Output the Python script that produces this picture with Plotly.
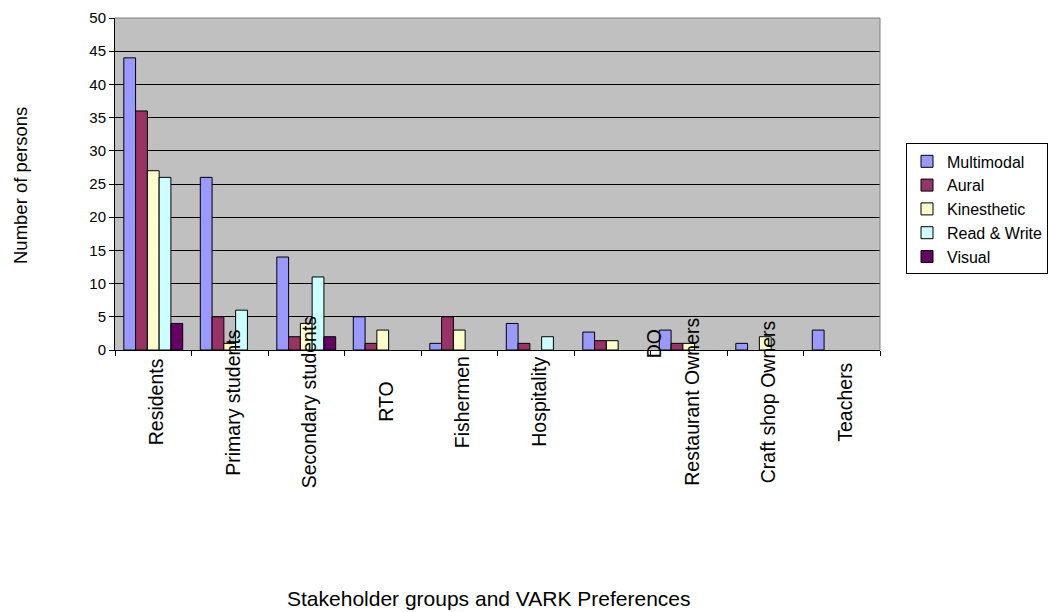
import plotly.graph_objects as go

# Stakeholder groups (x categories)
categories = ["Residents", "Primary students", "Secondary students", "RTO", "Fishermen",
              "Hospitality", "DO", "Restaurant Owners", "Craft shop Owners", "Teachers"]

# Number of persons per VARK preference (None = no respondents)
multimodal = [44, 26, 14, 5, 1, 4, 2.7, 3, 1, 3]
aural = [36, 5, 2, 1, 5, 1, 1.4, 1, None, None]
kinesthetic = [27, 1, 4, 3, 3, None, 1.4, 1, 2, None]
read_write = [26, 6, 11, None, None, 2, None, None, None, None]
visual = [4, None, 2, None, None, None, None, None, None, None]

series = [
    ("Multimodal", multimodal, "#9999FF"),
    ("Aural", aural, "#993366"),
    ("Kinesthetic", kinesthetic, "#FFFFCC"),
    ("Read & Write", read_write, "#CCFFFF"),
    ("Visual", visual, "#660066"),
]

y_ticks = list(range(0, 55, 5))

FONT = "Arial, Liberation Sans, sans-serif"

fig = go.Figure()
for name, vals, color in series:
    fig.add_trace(go.Bar(
        name=name, x=categories, y=vals,
        marker=dict(color=color, line=dict(color="black", width=1)),
    ))

W, H = 1048, 612
L, R, T, B = 115, 168, 18, 262
PW, PH = W - L - R, H - T - B

fig.update_layout(
    width=W, height=H,
    margin=dict(l=L, r=R, t=T, b=B, pad=0, autoexpand=False),
    paper_bgcolor="white",
    plot_bgcolor="#C0C0C0",
    barmode="group",
    bargap=0.23,
    bargroupgap=0,
    font=dict(family=FONT, size=15, color="black"),
    showlegend=True,
    legend=dict(
        x=(906 - L) / PW, xanchor="left", y=0.425, yanchor="middle",
        bgcolor="white", bordercolor="black", borderwidth=1,
        font=dict(size=16), tracegroupgap=0,
    ),
    xaxis=dict(
        type="category",
        showticklabels=False,
        ticks="outside", ticklen=5, tickcolor="black", tickson="boundaries",
        showline=True, linecolor="black", linewidth=1,
        showgrid=False, zeroline=False,
    ),
    yaxis=dict(
        range=[0, 50], tickvals=y_ticks,
        ticks="outside", ticklen=5, tickcolor="black",
        tickfont=dict(size=15),
        showline=True, linecolor="black", linewidth=1,
        showgrid=True, gridcolor="black", gridwidth=1,
        zeroline=False,
    ),
)

# Grey frame on the top and right of the plot area
fig.add_shape(type="line", xref="paper", yref="paper", x0=0, x1=1, y0=1, y1=1,
              line=dict(color="#808080", width=1))
fig.add_shape(type="line", xref="paper", yref="paper", x0=1, x1=1, y0=0, y1=1,
              line=dict(color="#808080", width=1))

# Rotated category labels, centred below the axis
label_shift = {"DO": (42, 58)}
for cat in categories:
    dx, dy = label_shift.get(cat, (3, 0))
    fig.add_annotation(
        x=cat, xref="x", y=-52 / PH, yref="paper",
        text=cat, textangle=-90, showarrow=False,
        xanchor="center", yanchor="middle",
        xshift=dx, yshift=dy,
        font=dict(size=19.5),
    )

# Axis titles
fig.add_annotation(
    x=(20 - L) / PW, xref="paper", y=(350 - 186) / PH, yref="paper",
    text="Number of persons", textangle=-90, showarrow=False,
    xanchor="center", yanchor="middle", font=dict(size=18.5),
)
fig.add_annotation(
    x=(489 - L) / PW, xref="paper", y=(350 - 598) / PH, yref="paper",
    text="Stakeholder groups and VARK Preferences", showarrow=False,
    xanchor="center", yanchor="middle", font=dict(size=21),
)

fig.write_html("out.html")
